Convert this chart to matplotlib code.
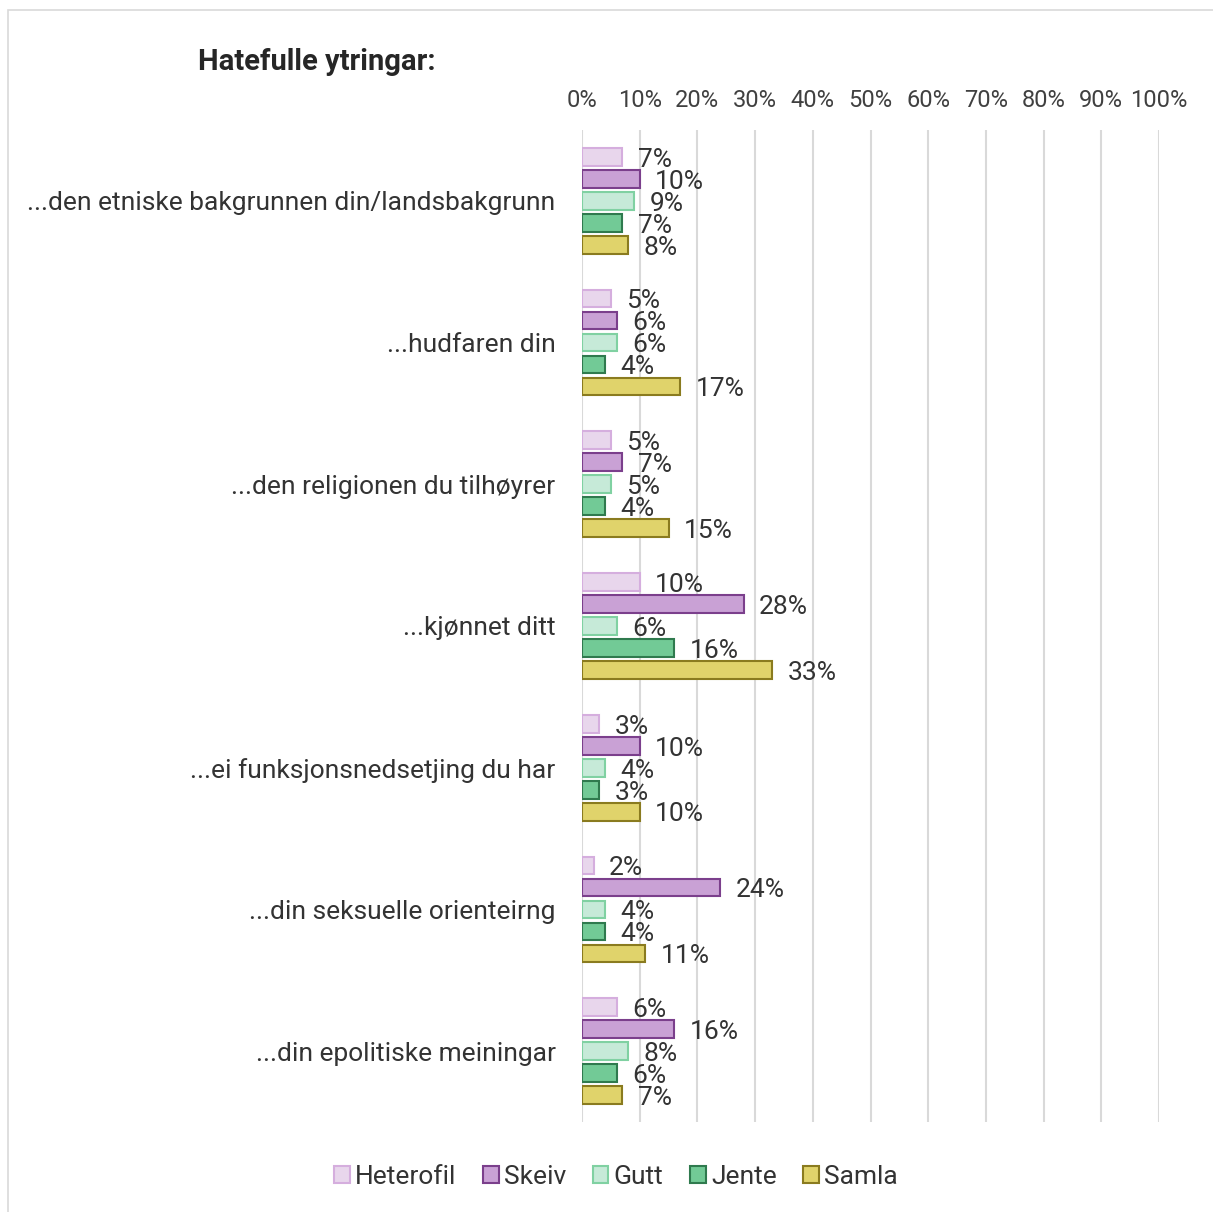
import matplotlib.pyplot as plt
import numpy as np
from matplotlib.patches import Rectangle

plt.rcParams['font.family'] = ['Roboto', 'DejaVu Sans']

# data
categories = ['...den etniske bakgrunnen din/landsbakgrunn', '...hudfaren din',
              '...den religionen du tilhøyrer', '...kjønnet ditt',
              '...ei funksjonsnedsetjing du har', '...din seksuelle orienteirng',
              '...din epolitiske meiningar']
series = ['Heterofil', 'Skeiv', 'Gutt', 'Jente', 'Samla']
heterofil = [7, 5, 5, 10, 3, 2, 6]
skeiv = [10, 6, 7, 28, 10, 24, 16]
gutt = [9, 6, 5, 6, 4, 4, 8]
jente = [7, 4, 4, 16, 3, 4, 6]
samla = [8, 17, 15, 33, 10, 11, 7]
values = [heterofil, skeiv, gutt, jente, samla]

fills = ['#e8d6ec', '#c9a1d5', '#c6ead8', '#72ca96', '#e0d36b']
edges = ['#d5aede', '#7b3f8c', '#80d1a2', '#2f7a4e', '#8a7b1f']

fig = plt.figure(figsize=(12.13, 12.12), dpi=100)
fig.patches.append(Rectangle((8/1213, -0.01), 1.0, 1 - 10/1212 + 0.01,
                             transform=fig.transFigure, fill=False,
                             edgecolor='#d9d9d9', lw=1.2))
ax = fig.add_axes([582/1213, 1 - 1122/1212, (1159 - 582)/1213, (1122 - 130)/1212])

y = np.arange(len(categories))
step = 0.155
h = 0.125
for i, (name, vals) in enumerate(zip(series, values)):
    pos = y + (i - 2) * step
    ax.barh(pos, vals, height=h, color=fills[i], edgecolor=edges[i], lw=1.5, label=name)
    for p, v in zip(pos, vals):
        ax.text(v + 2.7, p + 0.02, f'{v}%', va='center', ha='left', fontsize=19, color='#333333')

ax.set_xlim(0, 100)
ax.set_ylim(len(categories) - 0.5, -0.5)
ax.set_xticks(np.arange(0, 101, 10))
ax.set_xticklabels([f'{t}%' for t in range(0, 101, 10)], fontsize=17, color='#404040')
ax.xaxis.tick_top()
ax.tick_params(axis='x', length=0, pad=13)
ax.set_yticks(y)
ax.set_yticklabels(categories, fontsize=19, color='#333333')
ax.tick_params(axis='y', length=0, pad=19)
ax.grid(axis='x', color='#d9d9d9', lw=1.5)
ax.set_axisbelow(True)
for s in ax.spines.values():
    s.set_visible(False)

fig.text(198/1213, 1 - 62/1212, 'Hatefulle ytringar:', fontsize=21, fontweight='bold',
         color='#262626', va='center', ha='left')

fig.legend(loc='center', bbox_to_anchor=(616/1213, 1 - 1177/1212), ncol=5, frameon=False,
           fontsize=19, handlelength=0.6, handleheight=0.6, handletextpad=0.2,
           columnspacing=1.0, labelcolor='#333333')

fig.savefig('out.png', dpi=100)
